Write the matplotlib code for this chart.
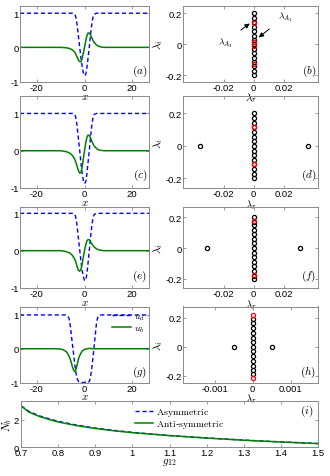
import matplotlib
matplotlib.use('Agg')
import matplotlib.pyplot as plt

plt.rcParams['font.family'] = ['Liberation Sans', 'DejaVu Sans']
plt.rcParams['mathtext.fontset'] = 'cm'
plt.rcParams['axes.unicode_minus'] = False

# ---------------- data: left panels (profiles) ----------------
x_prof = [-27, -10, -8, -7, -6, -5, -4, -3.5, -3, -2.5, -2, -1.5, -1, -0.5, 0,
          0.5, 1, 1.5, 2, 2.5, 3, 3.5, 4, 5, 6, 7, 8, 10, 27]

ud_a = [1, 1, 1, 1, 1, 1, 0.97, 0.85, 0.6, 0.3, 0.0, -0.3, -0.55, -0.75, -0.83,
        -0.8, -0.6, -0.3, 0.0, 0.35, 0.65, 0.87, 0.97, 1, 1, 1, 1, 1, 1]
ub_a = [0, 0, -0.01, -0.02, -0.04, -0.08, -0.15, -0.22, -0.3, -0.38, -0.42, -0.42,
        -0.33, -0.17, 0.0, 0.18, 0.34, 0.42, 0.42, 0.37, 0.29, 0.21, 0.15, 0.07,
        0.03, 0.01, 0, 0, 0]

ud_c = [1, 1, 1, 1, 1, 1, 0.97, 0.85, 0.6, 0.3, 0.0, -0.32, -0.6, -0.8, -0.88,
        -0.84, -0.62, -0.3, 0.0, 0.35, 0.65, 0.87, 0.97, 1, 1, 1, 1, 1, 1]
ub_c = [0, 0, -0.02, -0.04, -0.07, -0.13, -0.24, -0.33, -0.44, -0.54, -0.6, -0.58,
        -0.45, -0.22, 0.0, 0.2, 0.36, 0.42, 0.41, 0.35, 0.27, 0.19, 0.13, 0.06,
        0.02, 0.01, 0, 0, 0]

ud_e = [1, 1, 1, 1, 1, 1, 0.97, 0.85, 0.6, 0.3, 0.02, -0.28, -0.52, -0.7, -0.79,
        -0.8, -0.62, -0.32, 0.0, 0.33, 0.63, 0.86, 0.97, 1, 1, 1, 1, 1, 1]
ub_e = [0, 0, -0.02, -0.04, -0.07, -0.13, -0.24, -0.33, -0.45, -0.53, -0.55, -0.5,
        -0.36, -0.17, 0.0, 0.15, 0.26, 0.3, 0.29, 0.25, 0.19, 0.14, 0.1, 0.05,
        0.02, 0.01, 0, 0, 0]

x_g = [-27, -12, -10, -9, -8, -7.5, -7, -6.5, -6, -5.5, -5, -4.5, -4, -3.5, -3,
       -2.5, -2, -1, 0, 1, 1.5, 2, 2.5, 3, 3.5, 4, 4.5, 5, 5.5, 6, 7, 10, 27]
ud_g = [1, 1, 1, 1, 1, 0.99, 0.97, 0.9, 0.7, 0.4, 0.1, -0.2, -0.5, -0.75, -0.9,
        -0.97, -1.0, -1.0, -1.0, -1.0, -1.0, -0.97, -0.85, -0.6, -0.3, 0.05, 0.4,
        0.75, 0.92, 0.98, 1, 1, 1]
ub_g = [0, 0, -0.01, -0.03, -0.07, -0.1, -0.15, -0.22, -0.3, -0.42, -0.55, -0.64,
        -0.68, -0.6, -0.45, -0.3, -0.2, -0.07, -0.02, 0, 0, 0.01, 0.01, 0, 0, 0,
        0, 0, 0, 0, 0, 0, 0]

# ---------------- data: right panels (spectra) ----------------
lam_b_i = [0.2, 0.172, 0.143, 0.115, 0.086, 0.057, 0.029, 0.0, -0.029, -0.057,
           -0.086, -0.115, -0.143, -0.172, -0.2]
lam_b_r = [0] * len(lam_b_i)
red_b_i = [0.135, 0.015, -0.01, -0.13]
red_b_r = [0] * len(red_b_i)

lam_d_i = [0.2, 0.172, 0.143, 0.115, 0.086, 0.057, 0.029, 0.0, -0.029, -0.057,
           -0.086, -0.115, -0.143, -0.172, -0.2, 0.0, 0.0]
lam_d_r = [0] * 15 + [-0.036, 0.036]
red_d_i = [0.113, -0.113]
red_d_r = [0, 0]

lam_f_i = [0.2, 0.17, 0.15, 0.12, 0.09, 0.06, 0.03, 0.0, -0.03, -0.06, -0.09,
           -0.12, -0.15, -0.18, -0.2, 0.0, 0.0]
lam_f_r = [0] * 15 + [-0.031, 0.031]
red_f_i = [0.175, -0.175]
red_f_r = [0, 0]

lam_h_i = [0.19, 0.16, 0.13, 0.095, 0.063, 0.03, 0.0, -0.033, -0.065, -0.097,
           -0.13, -0.16, -0.19, 0.0, 0.0]
lam_h_r = [0] * 13 + [-0.0005, 0.0005]
red_h_i = [0.218, -0.218]
red_h_r = [0, 0]

# ---------------- data: bottom panel ----------------
g12 = [0.7, 0.72, 0.75, 0.78, 0.8, 0.85, 0.9, 0.95, 1.0, 1.1, 1.2, 1.3, 1.4, 1.5]
Nb_asym = [3.05, 2.65, 2.3, 2.05, 1.9, 1.62, 1.4, 1.23, 1.08, 0.85, 0.67, 0.51, 0.38, 0.26]
Nb_anti = [3.05, 2.6, 2.25, 2.0, 1.85, 1.58, 1.37, 1.2, 1.06, 0.84, 0.66, 0.5, 0.37, 0.25]

W, H = 330, 477
fig = plt.figure(figsize=(W / 100, H / 100), dpi=100)

SPINE = '#8a8a8a'
FS = 6.8


def add_ax(l, t, r, b):
    ax = fig.add_axes([l / W, 1 - b / H, (r - l) / W, (b - t) / H])
    ax.set_facecolor('none')
    for s in ax.spines.values():
        s.set_color(SPINE)
        s.set_linewidth(0.7)
    ax.tick_params(direction='in', top=True, right=True, length=2, width=0.6,
                   color=SPINE, labelsize=FS, pad=1.0)
    return ax


rows = [(6.7, 82.5), (97.3, 189), (208, 289), (307.5, 383.5)]
left_ylims = [(-1, 1.22), (-1, 1.46), (-1, 1.17), (-1, 1.25)]
right_ylims = [(-0.24, 0.25), (-0.26, 0.305), (-0.26, 0.267), (-0.246, 0.276)]

profiles = [(x_prof, ud_a, ub_a), (x_prof, ud_c, ub_c), (x_prof, ud_e, ub_e), (x_g, ud_g, ub_g)]
spectra = [(lam_b_r, lam_b_i, red_b_r, red_b_i), (lam_d_r, lam_d_i, red_d_r, red_d_i),
           (lam_f_r, lam_f_i, red_f_r, red_f_i), (lam_h_r, lam_h_i, red_h_r, red_h_i)]
left_tags = ['(a)', '(c)', '(e)', '(g)']
right_tags = ['(b)', '(d)', '(f)', '(h)']

for k, (t, b) in enumerate(rows):
    ax = add_ax(20, t, 149, b)
    xs, ud, ub = profiles[k]
    ax.plot(xs, ud, color='#0000ff', lw=1.0, ls=(0, (3, 2)), label='$u_d$')
    ax.plot(xs, ub, color='#008000', lw=1.1, label='$u_b$')
    ax.set_xlim(-27, 27)
    ax.set_ylim(*left_ylims[k])
    ax.set_xticks([-20, 0, 20])
    ax.set_yticks([-1, 0, 1])
    ax.set_xlabel('$x$', fontsize=8, labelpad=-1.0)
    ax.text(0.985, 0.15, '$' + left_tags[k] + '$', transform=ax.transAxes,
            ha='right', va='center', fontsize=8)
    if k == 3:
        ax.legend(loc='upper right', bbox_to_anchor=(1.02, 1.04), frameon=False,
                  fontsize=7, handlelength=1.9, handletextpad=0.3,
                  labelspacing=0.05, borderpad=0.2)

    axr = add_ax(183, t, 318, b)
    br, bi, rr, ri = spectra[k]
    axr.plot(br, bi, 'o', ms=3, mfc='none', mec='black', mew=0.9)
    axr.plot(rr, ri, 'o', ms=3, mfc='none', mec='red', mew=0.9)
    axr.set_ylim(*right_ylims[k])
    axr.set_yticks([-0.2, 0, 0.2])
    axr.set_yticklabels(['-0.2', '0', '0.2'])
    if k < 3:
        axr.set_xlim(-0.047, 0.043)
        axr.set_xticks([-0.02, 0, 0.02])
        axr.set_xticklabels(['-0.02', '0', '0.02'])
    else:
        axr.set_xlim(-0.00183, 0.00172)
        axr.set_xticks([-0.001, 0, 0.001])
        axr.set_xticklabels(['-0.001', '0', '0.001'])
    axr.set_xlabel(r'$\lambda_r$', fontsize=8, labelpad=-1.0)
    axr.set_ylabel(r'$\lambda_i$', fontsize=8, labelpad=0)
    axr.text(0.985, 0.15, '$' + right_tags[k] + '$', transform=axr.transAxes,
             ha='right', va='center', fontsize=8)
    if k == 0:
        axr.annotate(r'$\lambda_{A_1}$', xy=(0.0035, 0.045), xytext=(0.021, 0.18),
                     fontsize=7, ha='center', va='center',
                     arrowprops=dict(arrowstyle='-|>', color='black', lw=0.7,
                                     mutation_scale=7, shrinkA=5, shrinkB=0))
        axr.annotate(r'$\lambda_{A_2}$', xy=(-0.0025, 0.135), xytext=(-0.019, 0.017),
                     fontsize=7, ha='center', va='center',
                     arrowprops=dict(arrowstyle='-|>', color='black', lw=0.7,
                                     mutation_scale=7, shrinkA=5, shrinkB=0))

axi = add_ax(21, 402, 318, 448)
axi.plot(g12, Nb_asym, color='#0000ff', lw=1.0, ls=(0, (3, 2)), label=r'$\mathrm{Asymmetric}$')
axi.plot(g12, Nb_anti, color='#008000', lw=1.1, label=r'$\mathrm{Anti}$-$\mathrm{symmetric}$')
axi.set_xlim(0.7, 1.5)
axi.set_ylim(0, 3.4)
axi.set_xticks([0.7, 0.8, 0.9, 1.0, 1.1, 1.2, 1.3, 1.4, 1.5])
axi.set_xticklabels(['0.7', '0.8', '0.9', '1', '1.1', '1.2', '1.3', '1.4', '1.5'])
axi.set_yticks([0, 2])
axi.tick_params(axis='y', pad=1.5)
axi.set_xlabel('$g_{12}$', fontsize=8, labelpad=-1)
axi.set_ylabel('$N_b$', fontsize=8, labelpad=-0.6)
axi.text(0.985, 0.8, '$(i)$', transform=axi.transAxes, ha='right', va='center', fontsize=8)
axi.legend(loc='upper left', bbox_to_anchor=(0.36, 1.04), frameon=False, fontsize=7,
           handlelength=1.9, handletextpad=0.3, labelspacing=0.05, borderpad=0.2)

fig.savefig('out.png', dpi=100)
